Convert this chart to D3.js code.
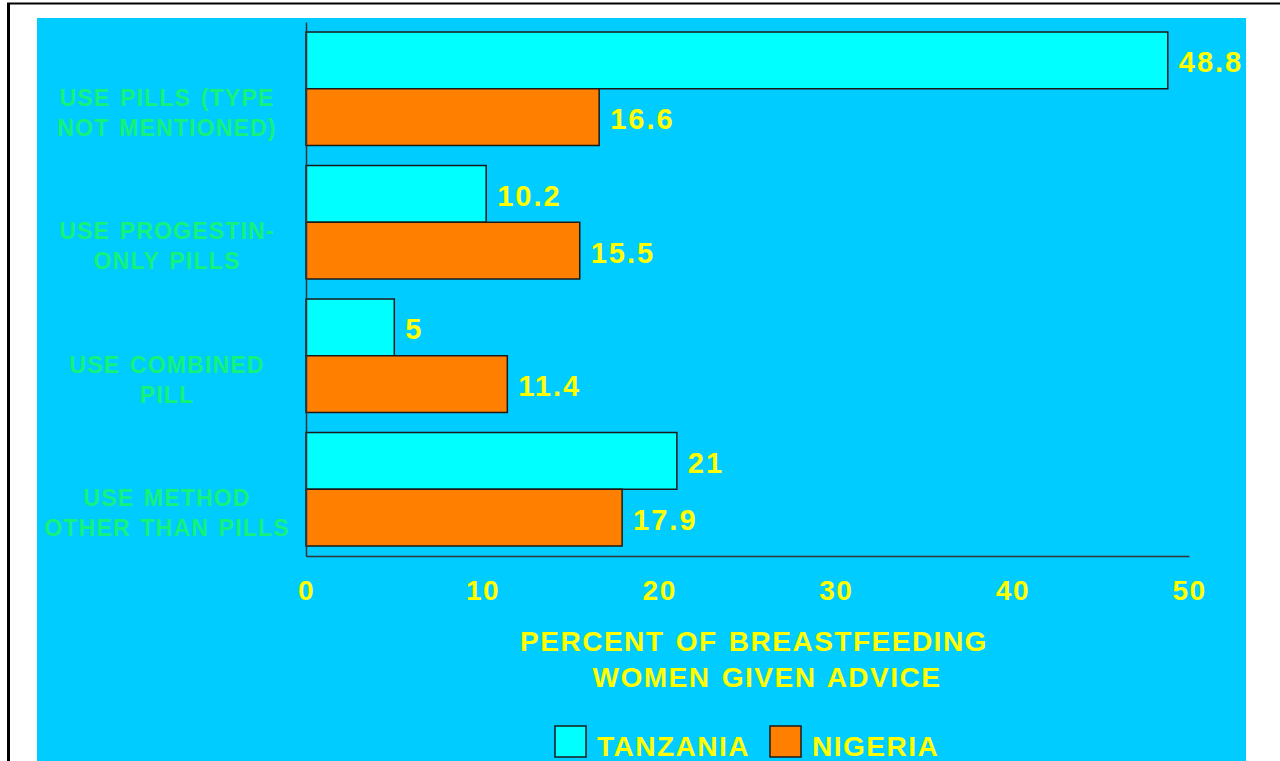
<!DOCTYPE html>
<html>
<head>
<meta charset="utf-8">
<script src="https://cdn.jsdelivr.net/npm/d3@7"></script>
<style>
  body { margin: 0; background: #fff; }
  svg { display: block; font-family: 'Liberation Sans', Arial, Helvetica, sans-serif; font-weight: bold; }
</style>
</head>
<body>
<svg id="chart"></svg>
<script>
const WIDTH = 1280
const HEIGHT = 761

// data
const categories = ['pillsAny', 'progestin', 'combined', 'other']
const categoryLines = [
    ['USE PILLS (TYPE', 'NOT MENTIONED)'],
    ['USE PROGESTIN-', 'ONLY PILLS'],
    ['USE COMBINED', 'PILL'],
    ['USE METHOD', 'OTHER THAN PILLS'],
]
const seriesNames = ['TANZANIA', 'NIGERIA']
const tanzania = [48.8, 10.2, 5, 21]
const nigeria = [16.6, 15.5, 11.4, 17.9]
const xTicks = [0, 10, 20, 30, 40, 50]
const axisTitle = ['PERCENT OF BREASTFEEDING', 'WOMEN GIVEN ADVICE']

const COLORS = { TANZANIA: '#00ffff', NIGERIA: '#ff8000' }
const PANEL = '#00ccff'
const YELLOW = '#ffff00'
const GREEN = '#14f27c'

const PLOT = { left: 306, right: 1189, top: 22, bottom: 556 }

const svg = d3.select('#chart').attr('width', WIDTH).attr('height', HEIGHT)

// frame + panel
svg.append('rect')
    .attr('x', 37).attr('y', 18)
    .attr('width', 1246 - 37).attr('height', HEIGHT - 18)
    .attr('fill', PANEL)
svg.append('line')
    .attr('x1', 7).attr('x2', WIDTH).attr('y1', 3.5).attr('y2', 3.5)
    .attr('stroke', '#000').attr('stroke-width', 2)
svg.append('line')
    .attr('x1', 8.5).attr('x2', 8.5).attr('y1', 3).attr('y2', HEIGHT)
    .attr('stroke', '#000').attr('stroke-width', 3)

// scales
const x = d3.scaleLinear().domain([0, 50]).range([PLOT.left, PLOT.right])
const y = d3.scaleBand()
    .domain(categories)
    .range([PLOT.top, PLOT.bottom])
    .paddingInner(0.15)
    .paddingOuter(0.075)
const ySub = d3.scaleBand().domain(seriesNames).range([0, y.bandwidth()])

const rows = categories.map((c, i) => ({
    cat: c,
    lines: categoryLines[i],
    values: [
        { name: 'TANZANIA', value: tanzania[i] },
        { name: 'NIGERIA', value: nigeria[i] },
    ],
}))

// bars
const groups = svg.selectAll('.group').data(rows).enter()
    .append('g').attr('class', 'group')
    .attr('transform', d => `translate(0,${y(d.cat)})`)

groups.selectAll('rect').data(d => d.values).enter()
    .append('rect')
    .attr('x', x(0))
    .attr('y', d => ySub(d.name))
    .attr('width', d => x(d.value) - x(0))
    .attr('height', ySub.bandwidth())
    .attr('fill', d => COLORS[d.name])
    .attr('stroke', '#1a1a1a')
    .attr('stroke-width', 1.5)

// value labels
groups.selectAll('text.val').data(d => d.values).enter()
    .append('text').attr('class', 'val')
    .attr('x', d => x(d.value) + 11)
    .attr('y', d => ySub(d.name) + ySub.bandwidth() / 2 + 12)
    .attr('fill', YELLOW)
    .style('font-size', '29px')
    .style('letter-spacing', '2px')
    .text(d => d.value)

// category labels
const catText = svg.selectAll('.cat').data(rows).enter()
    .append('text').attr('class', 'cat')
    .attr('text-anchor', 'middle')
    .attr('fill', GREEN)
    .style('font-size', '23px')
    .style('letter-spacing', '1.2px')
    .style('word-spacing', '2px')
catText.selectAll('tspan').data(d => d.lines.map((l, j) => ({ l, j, cat: d.cat }))).enter()
    .append('tspan')
    .attr('x', 167)
    .attr('y', d => y(d.cat) + y.bandwidth() / 2 + 17 + d.j * 30)
    .text(d => d.l)

// axes
const xAxis = svg.append('g')
    .attr('transform', `translate(0,${PLOT.bottom})`)
    .call(d3.axisBottom(x).tickValues(xTicks).tickSize(0).tickSizeOuter(0).tickPadding(24))
xAxis.select('.domain').attr('stroke', '#333').attr('stroke-width', 1.5)
xAxis.selectAll('text')
    .attr('fill', YELLOW)
    .style('font-family', "'Liberation Sans', Arial, sans-serif")
    .style('font-weight', 'bold')
    .style('font-size', '28px')
    .style('letter-spacing', '1.5px')

const yAxis = svg.append('g')
    .attr('transform', `translate(${PLOT.left},0)`)
    .call(d3.axisLeft(y).tickSize(0).tickSizeOuter(0).tickFormat(''))
yAxis.select('.domain').attr('stroke', '#333').attr('stroke-width', 1.5)
yAxis.selectAll('.tick').remove()

// axis title
svg.append('text')
    .attr('text-anchor', 'middle')
    .attr('fill', YELLOW)
    .style('font-size', '28px')
    .style('letter-spacing', '1.5px')
    .style('word-spacing', '2px')
    .selectAll('tspan').data(axisTitle).enter()
    .append('tspan')
    .attr('x', (d, i) => i === 0 ? 754 : 767)
    .attr('y', (d, i) => 651 + i * 36)
    .text(d => d)

// legend
const legendX = [555, 770]
const legend = svg.selectAll('.legend').data(seriesNames).enter()
    .append('g').attr('class', 'legend')
    .attr('transform', (d, i) => `translate(${legendX[i]},726)`)
legend.append('rect')
    .attr('width', 31).attr('height', 31)
    .attr('fill', d => COLORS[d])
    .attr('stroke', '#1a1a1a').attr('stroke-width', 1.5)
legend.append('text')
    .attr('x', 42).attr('y', 30)
    .attr('fill', YELLOW)
    .style('font-size', '28px')
    .style('letter-spacing', '1.5px')
    .text(d => d)
</script>
</body>
</html>
